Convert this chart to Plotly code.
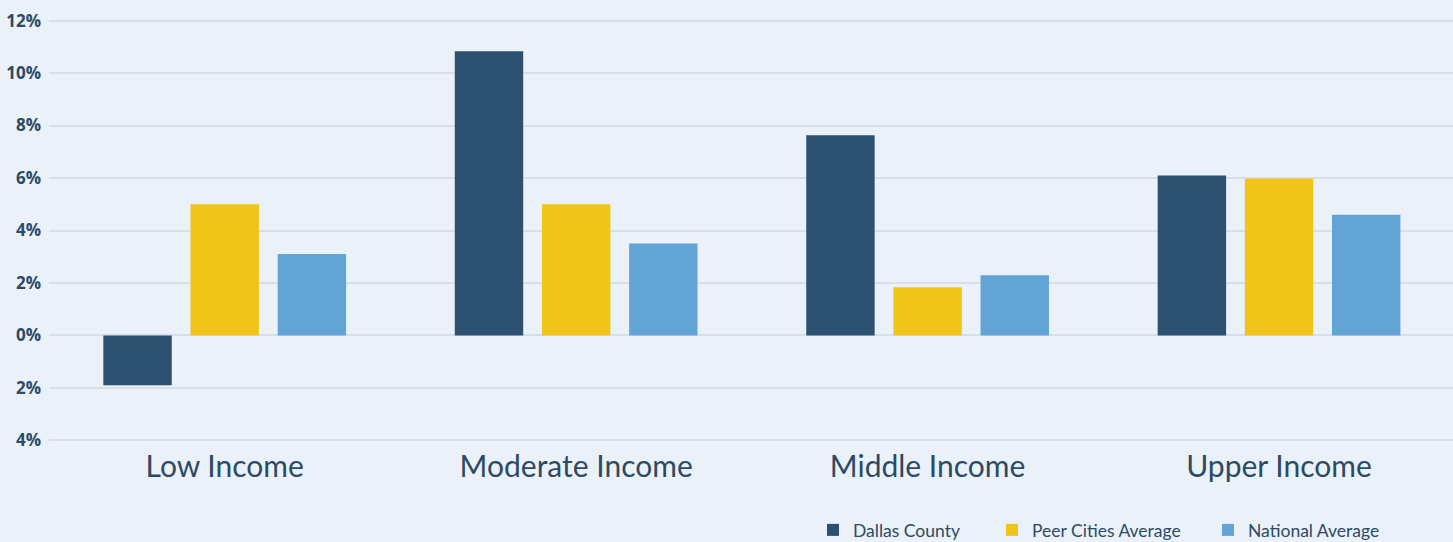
import plotly.graph_objects as go

# Income categories and the change per series (%)
categories = ["Low Income", "Moderate Income", "Middle Income", "Upper Income"]
dallas_county = [-1.9, 10.83, 7.63, 6.1]
peer_cities = [5.0, 5.0, 1.84, 5.98]
national_avg = [3.1, 3.5, 2.29, 4.6]

series_names = ["Dallas County", "Peer Cities Average", "National Average"]
series_colors = ["#2b5070", "#f0c419", "#62a4d6"]

tick_vals = [-4, -2, 0, 2, 4, 6, 8, 10, 12]
tick_text = ["4%", "2%", "0%", "2%", "4%", "6%", "8%", "10%", "12%"]

TEXT = "#2c4a66"
BG = "#ebf1f8"
GRID = "#d9dfe7"
W, H = 1453, 542

# each series gets its own legend box so the entries can be spaced freely
legend_ids = ["legend", "legend2", "legend3"]
legend_left_px = [813, 992, 1208]

fig = go.Figure()
for name, vals, color, lg in zip(series_names, [dallas_county, peer_cities, national_avg], series_colors, legend_ids):
    fig.add_trace(go.Bar(x=categories, y=vals, name=name, legend=lg,
                         marker=dict(color=color, line=dict(width=0))))

legend_style = dict(
    orientation="h",
    xref="container", yref="container",
    xanchor="left", yanchor="middle",
    y=(H - 530) / H,
    font=dict(family="Lato", size=17.5, color=TEXT),
    bgcolor="rgba(0,0,0,0)",
    itemwidth=30,
)

layout_legends = {}
for lg, px in zip(legend_ids, legend_left_px):
    layout_legends[lg] = dict(legend_style, x=px / W)

fig.update_layout(
    width=W,
    height=H,
    margin=dict(l=49, r=0, t=19, b=100),
    paper_bgcolor=BG,
    plot_bgcolor=BG,
    barmode="group",
    bargap=0.256,
    bargroupgap=0.215,
    showlegend=True,
    xaxis=dict(
        range=[-0.5, 3.495],
        showgrid=False,
        showline=False,
        zeroline=False,
        ticks="",
        tickfont=dict(family="Lato", size=30, color=TEXT),
        ticklabelstandoff=4,
    ),
    yaxis=dict(
        range=[-4.06, 12.06],
        tickvals=tick_vals,
        ticktext=tick_text,
        showgrid=True,
        gridcolor=GRID,
        gridwidth=1.5,
        zeroline=False,
        showline=False,
        ticks="",
        tickfont=dict(family="Open Sans", size=17, color=TEXT, weight="bold"),
        ticklabelstandoff=7,
    ),
    **layout_legends,
)

fig.write_html("out.html")
